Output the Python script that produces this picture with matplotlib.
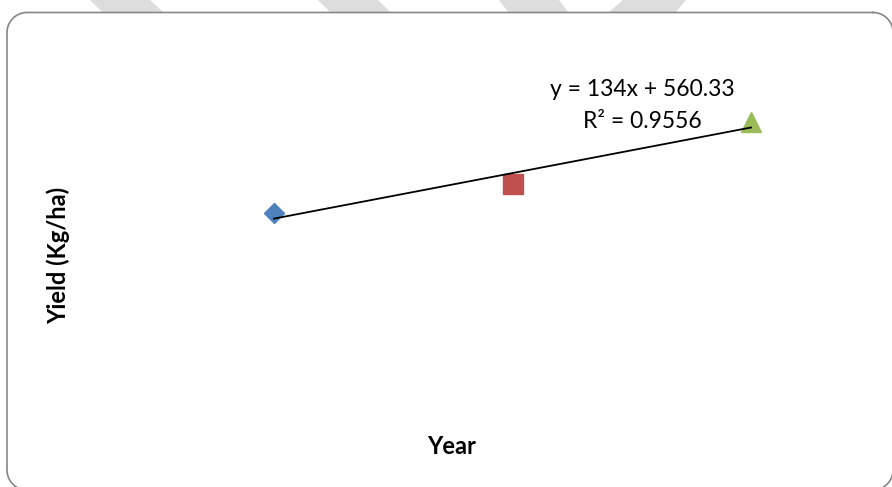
import numpy as np
import matplotlib.pyplot as plt
from matplotlib.patches import Polygon
from matplotlib.lines import Line2D

# data (one point per year, three marker styles)
years = [1, 2, 3]
yields = [711, 795, 979]
markers = ['D', 's', '^']
colors = ['#4F81BD', '#C0504D', '#9BBB59']
sizes = [10, 14, 14]

W, H = 892, 487
fig = plt.figure(figsize=(W / 100, H / 100), dpi=100)


def px(x, y):
    # pixel (from top-left) -> figure fraction
    return x / W, 1 - y / H


# faint watermark strips along the top edge
strips = [
    [(90, 0), (150, 0), (163, 12), (102, 12)],
    [(318, 0), (378, 0), (390, 12), (330, 12)],
    [(499, 0), (559, 0), (568, 12), (508, 12)],
    [(623, 0), (686, 0), (676, 12), (609, 12)],
]
for s in strips:
    fig.patches.append(Polygon([px(*p) for p in s], closed=True,
                               transform=fig.transFigure, facecolor='#DDDDDD',
                               edgecolor='none', zorder=0))

# rounded chart border, runs off the right and bottom edges
bl, bt, br, bb, rad = 7, 12.5, 893, 490, 20
corners = [(br - rad, bt + rad, 90, 0), (br - rad, bb - rad, 0, -90),
           (bl + rad, bb - rad, -90, -180), (bl + rad, bt + rad, 180, 90)]
bxs, bys = [], []
for cx, cy, a0, a1 in corners:
    t = np.radians(np.linspace(a0, a1, 20))
    bxs += list(cx + rad * np.cos(t))
    bys += list(cy - rad * np.sin(t))
bxs.append(bxs[0])
bys.append(bys[0])
fx, fy = zip(*[px(a, b) for a, b in zip(bxs, bys)])
fig.add_artist(Line2D(fx, fy, transform=fig.transFigure, color='#868686',
                      linewidth=1.2, zorder=1))

# plot area (no visible axes)
left, right = 35.5, 35.5 + 3.5 * 238.5
top, bottom = 29.7, 454.7
ax = fig.add_axes([left / W, 1 - bottom / H, (right - left) / W, (bottom - top) / H])
ax.set_xlim(0, 3.5)
ax.set_ylim(0, 1250)
ax.axis('off')

for x, y, m, c, s in zip(years, yields, markers, colors, sizes):
    ax.plot(x, y, marker=m, color=c, markersize=s, linestyle='none', zorder=3)

# linear trendline
slope, icpt = np.polyfit(years, yields, 1)
fit = slope * np.array(years) + icpt
r2 = 1 - np.sum((np.array(yields) - fit) ** 2) / np.sum((np.array(yields) - np.mean(yields)) ** 2)
ax.plot([years[0], years[-1]], [fit[0], fit[-1]], color='black', linewidth=1.3, zorder=4)

font = 'Lato'
fig.text(*px(642, 90), f'y = {slope:g}x + {icpt:.2f}', ha='center', va='center',
         fontsize=16.5, family=font)
fig.text(*px(642, 121), f'R² = {r2:.4f}', ha='center', va='center',
         fontsize=16.5, family=font)

fig.text(*px(452, 446), 'Year', ha='center', va='center', fontsize=17,
         fontweight='bold', family=font)
fig.text(*px(58, 255), 'Yield (Kg/ha)', ha='center', va='center', rotation=90,
         fontsize=17, fontweight='bold', family=font)

fig.savefig('out.png', dpi=100)
